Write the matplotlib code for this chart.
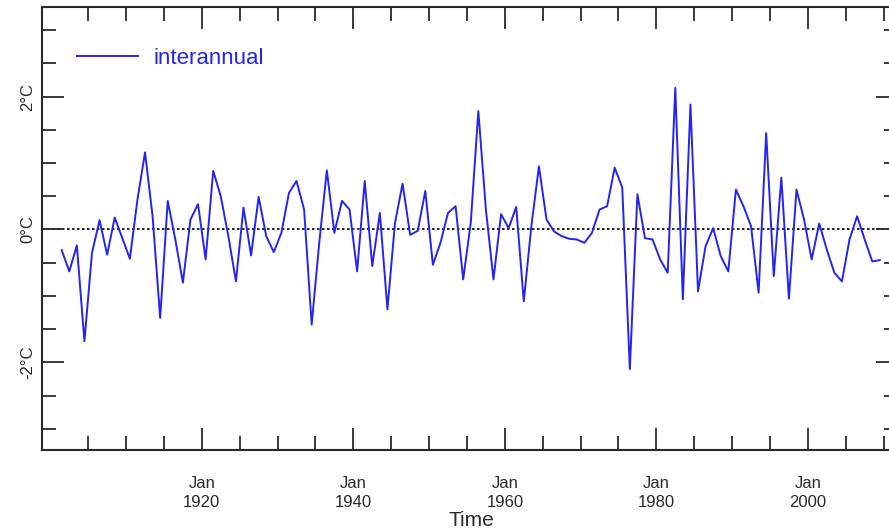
import numpy as np
from matplotlib import pyplot as plt

# annual anomaly, one value per year 1901..2009
YEARS = np.arange(1901, 2010)
ANOMALY = [
    -0.31, -0.63, -0.24, -1.68, -0.35, 0.14, -0.38, 0.18, -0.13, -0.44,
    0.45, 1.16, 0.20, -1.33, 0.43, -0.15, -0.80, 0.15, 0.38, -0.45,
    0.88, 0.50, -0.10, -0.78, 0.33, -0.39, 0.49, -0.10, -0.34, -0.05,
    0.55, 0.73, 0.30, -1.43, -0.20, 0.89, -0.05, 0.43, 0.30, -0.63,
    0.73, -0.55, 0.25, -1.20, 0.10, 0.69, -0.08, -0.02, 0.58, -0.53,
    -0.20, 0.25, 0.35, -0.75, 0.10, 1.78, 0.30, -0.75, 0.23, 0.02,
    0.34, -1.08, 0.05, 0.95, 0.15, -0.03, -0.10, -0.14, -0.15, -0.20,
    -0.05, 0.30, 0.35, 0.93, 0.63, -2.10, 0.53, -0.13, -0.15, -0.45,
    -0.65, 2.13, -1.05, 1.88, -0.93, -0.25, 0.02, -0.40, -0.63, 0.60,
    0.35, 0.05, -0.95, 1.45, -0.70, 0.78, -1.04, 0.60, 0.15, -0.45,
    0.09, -0.30, -0.65, -0.78, -0.15, 0.20, -0.15, -0.48, -0.46,
]
SERIES_LABEL = "interannual"
X_MAJOR = [1920, 1940, 1960, 1980, 2000]
X_LABELS = ["Jan\n1920", "Jan\n1940", "Jan\n1960", "Jan\n1980", "Jan\n2000"]
X_MINOR = np.arange(1905, 2011, 5)
Y_MAJOR = [-2, 0, 2]
Y_LABELS = ["-2°C", "0°C", "2°C"]
Y_MINOR = np.arange(-3, 3.01, 0.5)

BLUE = "#2424f0"
DARK = "#2a2a2a"

plt.rcParams['font.family'] = ['Liberation Sans', 'DejaVu Sans']

W, H = 889, 529
fig = plt.figure(figsize=(W / 100, H / 100), dpi=100)
left, right, top, bottom = 42, 898, 7, 450
ax = fig.add_axes([left / W, 1 - bottom / H, (right - left) / W, (bottom - top) / H])

ax.axhline(0, color="black", lw=1.2, ls=(0, (1.5, 1.5)), zorder=1)
ax.plot(YEARS + 0.5, ANOMALY, color=BLUE, lw=1.4, label=SERIES_LABEL, zorder=2)

ax.set_xlim(1898.9, 2011.9)
ax.set_ylim(-3.316, 3.346)

ax.set_xticks(X_MAJOR)
ax.set_xticklabels(X_LABELS, linespacing=1.3)
ax.set_xticks(X_MINOR, minor=True)
ax.set_yticks(Y_MAJOR)
ax.set_yticklabels(Y_LABELS, rotation=90, va="center")
ax.set_yticks(Y_MINOR, minor=True)

ax.tick_params(which="both", direction="in", top=True, right=True,
               color=DARK, width=1.3, labelcolor=DARK, labelsize=12)
ax.tick_params(which="major", length=16)
ax.tick_params(which="minor", length=10)
ax.tick_params(axis="x", which="major", pad=19)
ax.tick_params(axis="y", which="major", pad=5)
for s in ax.spines.values():
    s.set_color(DARK)
    s.set_linewidth(1.5)

leg = ax.legend(loc="upper left", bbox_to_anchor=((77 - left) / (right - left), 1 - (48 - top) / (bottom - top)),
                frameon=False, fontsize=16, handlelength=2.75, handletextpad=0.7,
                borderaxespad=0, borderpad=0, labelcolor=BLUE)

fig.text(471 / W, 1 - 511 / H, "Time", ha="center", va="top", fontsize=15, color=DARK)

fig.savefig("out.png", dpi=100)
